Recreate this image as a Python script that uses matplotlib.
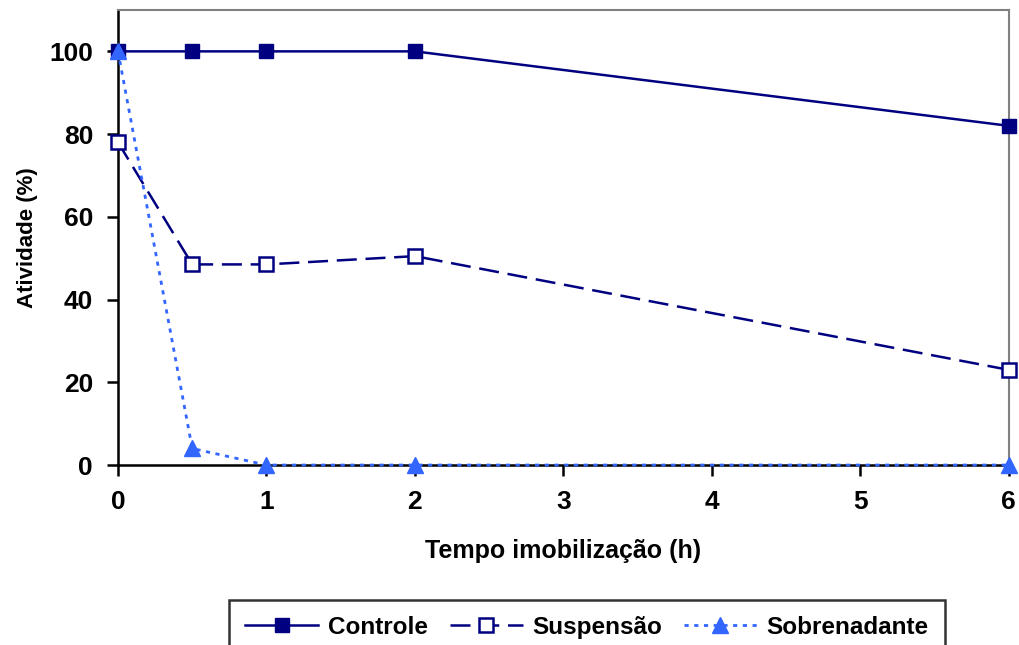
import matplotlib.pyplot as plt

plt.rcParams['font.family'] = ['Liberation Sans', 'DejaVu Sans']
plt.rcParams['font.weight'] = 'bold'

# data
tempo = [0, 0.5, 1, 2, 6]
controle = [100, 100, 100, 100, 82]
suspensao = [78, 48.5, 48.5, 50.5, 23]
sobrenadante = [100, 4, 0, 0, 0]

navy = "#000080"
azul = "#3366FF"

fig = plt.figure(figsize=(10.19, 6.45), dpi=100)
ax = fig.add_axes([0.1158, 0.279, 0.8742, 0.7055])

ax.plot(tempo, controle, color=navy, lw=1.8, marker="s", ms=10,
        mfc=navy, mec=navy, label="Controle", clip_on=False, zorder=4)
ax.plot(tempo, suspensao, color=navy, lw=1.8, ls=(0, (8, 3.5)), marker="s", ms=10,
        mfc="white", mec=navy, mew=1.8, label="Suspensão", clip_on=False, zorder=4)
ax.plot(tempo, sobrenadante, color=azul, lw=2, ls=(0, (1.5, 2)), marker="^", ms=11,
        mfc=azul, mec=azul, label="Sobrenadante", clip_on=False, zorder=5)

ax.set_xlim(0, 6)
ax.set_ylim(0, 110)
ax.set_xticks(range(0, 7))
ax.set_yticks(range(0, 101, 20))
ax.tick_params(labelsize=19, length=8, width=1.8, direction="out", pad=10)

ax.spines["left"].set_linewidth(1.8)
ax.spines["bottom"].set_linewidth(1.8)
ax.spines["top"].set_color("#808080")
ax.spines["right"].set_color("#808080")
ax.spines["top"].set_linewidth(1.5)
ax.spines["right"].set_linewidth(1.5)

ax.set_xlabel("Tempo imobilização (h)", fontsize=18, fontweight="bold", labelpad=18)
ax.set_ylabel("Atividade (%)", fontsize=16, fontweight="bold", labelpad=8)

leg = fig.legend(loc="upper center", bbox_to_anchor=(0.576, 0.07), ncol=3,
                 fontsize=17.5, frameon=True, fancybox=False, edgecolor="black",
                 handlelength=3.0, columnspacing=0.9, handletextpad=0.4,
                 borderpad=0.65, borderaxespad=0)
leg.get_frame().set_linewidth(1.8)

fig.savefig("out.png", dpi=100)
